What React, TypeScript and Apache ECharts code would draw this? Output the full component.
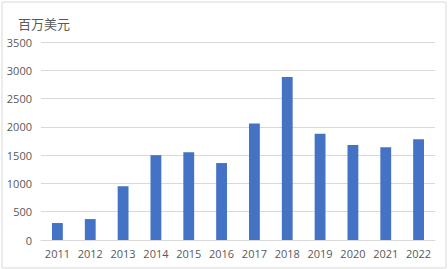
import React, { useEffect, useRef } from "react";
import * as echarts from "echarts";

const years = ["2011", "2012", "2013", "2014", "2015", "2016", "2017", "2018", "2019", "2020", "2021", "2022"];
const values = [300, 370, 950, 1500, 1550, 1360, 2060, 2880, 1880, 1680, 1640, 1780];
const unitLabel = "百万美元";

export default function App() {
  const ref = useRef<HTMLDivElement>(null);
  useEffect(() => {
    if (!ref.current) return;
    const chart = echarts.init(ref.current, null, { renderer: "svg" });
    chart.setOption({
      animation: false,
      backgroundColor: "#ffffff",
      graphic: [
        {
          type: "rect",
          shape: { x: 2, y: 2, width: 444, height: 266 },
          style: { fill: "none", stroke: "#d9d9d9", lineWidth: 1 },
          silent: true,
        },
        {
          type: "text",
          left: 18,
          top: 17,
          style: { text: unitLabel, fill: "#595959", fontSize: 13, fontFamily: "Noto Sans CJK SC" },
        },
      ],
      grid: { left: 41, right: 13, top: 42, bottom: 29 },
      xAxis: {
        type: "category",
        data: years,
        axisLine: { show: true, lineStyle: { color: "#d9d9d9" } },
        axisTick: { show: false },
        axisLabel: { color: "#595959", fontSize: 11, fontFamily: "Open Sans", margin: 8 },
      },
      yAxis: {
        type: "value",
        min: 0,
        max: 3500,
        interval: 500,
        axisLine: { show: false },
        axisTick: { show: false },
        splitLine: { lineStyle: { color: "#d9d9d9" } },
        axisLabel: {
          color: "#595959",
          fontSize: 11,
          fontFamily: "Open Sans",
          margin: 9,
          formatter: (v: number) => String(v),
        },
      },
      series: [
        {
          type: "bar",
          data: values,
          barWidth: "33%",
          itemStyle: { color: "#4472c4" },
        },
      ],
    });
    return () => chart.dispose();
  }, []);
  return <div ref={ref} style={{ position: "absolute", left: 0, top: 0, width: 448, height: 269 }} />;
}
